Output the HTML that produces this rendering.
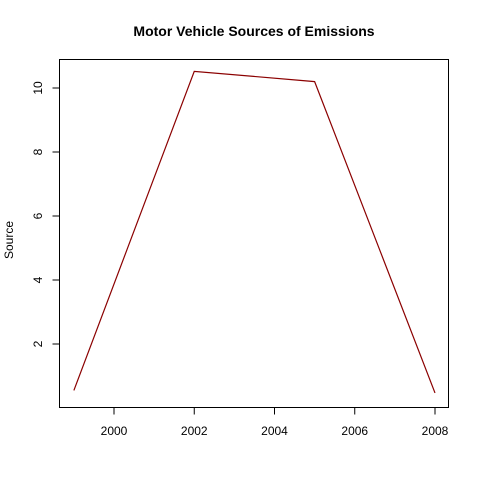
<!DOCTYPE html>
<html><head><meta charset="utf-8"><style>
body{margin:0;background:#fff}
text{font-family:"Liberation Sans",Arial,sans-serif;fill:#000}
</style></head><body>
<svg id="chart" width="480" height="480">
<rect width="480" height="480" fill="#fff"/>
<text x="254" y="36" text-anchor="middle" font-weight="bold" font-size="14">Motor Vehicle Sources of Emissions</text>
<rect x="59.5" y="59.5" width="389" height="348" fill="none" stroke="#000"/>
<text transform="translate(13,240) rotate(-90)" text-anchor="middle" font-size="12">Source</text>
<g id="xaxis"></g><g id="yaxis"></g><g id="series"></g>
</svg>
<script>
const years=[1999,2002,2005,2008];
const values=[0.55,10.52,10.2,0.47];
const xTicks=[2000,2002,2004,2006,2008];
const yTicks=[2,4,6,8,10];
const ns="http://www.w3.org/2000/svg";
const X=v=>114+(v-2000)*40.125;
const Y=v=>344-(v-2)*32;
function mk(t,a,p){const e=document.createElementNS(ns,t);for(const k in a)e.setAttribute(k,a[k]);p.appendChild(e);return e;}
const xa=document.getElementById('xaxis'),ya=document.getElementById('yaxis'),s=document.getElementById('series');
mk('line',{x1:X(2000),x2:X(2008),y1:407.5,y2:407.5,stroke:'#000'},xa);
xTicks.forEach(t=>{
 const l=mk('line',{x1:X(t),x2:X(t),y1:407.5,y2:414.5,stroke:'#000'},xa);
 
 
 const tx=mk('text',{x:X(t),y:435,'text-anchor':'middle','font-size':12},xa);tx.textContent=t;
 
 
});
mk('line',{x1:59.5,x2:59.5,y1:Y(2),y2:Y(10),stroke:'#000'},ya);
yTicks.forEach(t=>{
 const l=mk('line',{x1:52.5,x2:59.5,y1:Y(t),y2:Y(t),stroke:'#000'},ya);
 
 
 const tx=mk('text',{transform:`translate(42,${Y(t)}) rotate(-90)`,'text-anchor':'middle','font-size':12},ya);tx.textContent=t;
 
 
});
const pl=mk('polyline',{points:years.map((y,i)=>X(y)+','+Y(values[i])).join(' '),fill:'none',stroke:'#8b0000','stroke-width':1.2},s);


</script>
</body></html>
